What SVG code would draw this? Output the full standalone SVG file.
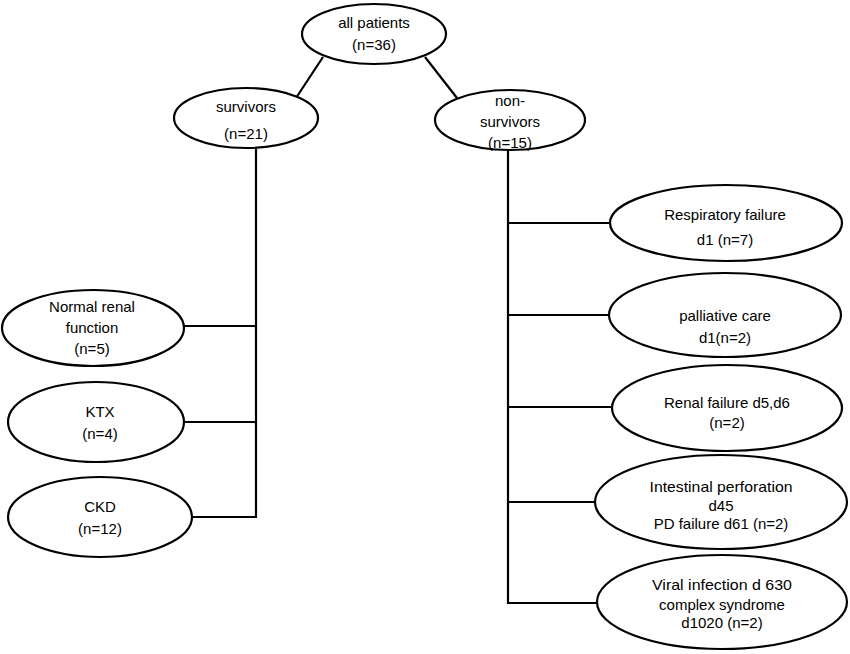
<svg xmlns="http://www.w3.org/2000/svg" width="850" height="654" viewBox="0 0 850 654">
<style>
.n ellipse{fill:#fff;stroke:#000;stroke-width:2.2}
.n text{font-family:"Liberation Sans",Arial,sans-serif;font-size:15px;fill:#000;text-anchor:middle}
#connectors line{stroke:#000;stroke-width:2.2;fill:none}
</style>
<rect width="850" height="654" fill="#fff"/>
<g id="connectors">
<line x1="323" y1="57" x2="296" y2="98"/>
<line x1="425" y1="57" x2="457" y2="98"/>
<line x1="256" y1="149" x2="256" y2="518"/>
<line x1="184" y1="326" x2="256" y2="326"/>
<line x1="184" y1="422" x2="256" y2="422"/>
<line x1="192" y1="517" x2="257" y2="517"/>
<line x1="508" y1="150" x2="508" y2="604"/>
<line x1="507" y1="223" x2="610" y2="223"/>
<line x1="507" y1="315" x2="609" y2="315"/>
<line x1="507" y1="407" x2="612" y2="407"/>
<line x1="507" y1="502" x2="595" y2="502"/>
<line x1="507" y1="603" x2="597" y2="603"/>
</g>
<g id="all" class="n"><ellipse cx="374" cy="34" rx="72" ry="30"/><text x="374" y="28">all patients</text><text x="374" y="50">(n=36)</text></g>
<g id="survivors" class="n"><ellipse cx="246" cy="118" rx="72" ry="30"/><text x="246" y="112">survivors</text><text x="246" y="139">(n=21)</text></g>
<g id="nonsurvivors" class="n"><ellipse cx="510" cy="120" rx="75" ry="30"/><text x="510" y="106">non-</text><text x="510" y="127">survivors</text><text x="510" y="148">(n=15)</text></g>
<g id="normal" class="n"><ellipse cx="93" cy="328" rx="91" ry="38"/><text x="92" y="312">Normal renal</text><text x="92" y="333">function</text><text x="92" y="354">(n=5)</text></g>
<g id="ktx" class="n"><ellipse cx="96" cy="422" rx="88" ry="40"/><text x="100" y="417">KTX</text><text x="100" y="439">(n=4)</text></g>
<g id="ckd" class="n"><ellipse cx="100" cy="517" rx="92" ry="40"/><text x="100" y="512">CKD</text><text x="100" y="534">(n=12)</text></g>
<g id="resp" class="n"><ellipse cx="726" cy="223" rx="116" ry="38"/><text x="725" y="220">Respiratory failure</text><text x="725" y="245">d1 (n=7)</text></g>
<g id="palliative" class="n"><ellipse cx="725" cy="315" rx="116" ry="42"/><text x="725" y="321">palliative care</text><text x="725" y="343">d1(n=2)</text></g>
<g id="renal" class="n"><ellipse cx="727" cy="408" rx="115" ry="43"/><text x="727" y="408">Renal failure d5,d6</text><text x="727" y="428">(n=2)</text></g>
<g id="intestinal" class="n"><ellipse cx="721" cy="502" rx="126" ry="47"/><text x="721" y="492" textLength="143" lengthAdjust="spacingAndGlyphs">Intestinal perforation</text><text x="721" y="511">d45</text><text x="721" y="529">PD failure d61 (n=2)</text></g>
<g id="viral" class="n"><ellipse cx="722" cy="602" rx="125" ry="47"/><text x="722" y="590" textLength="140" lengthAdjust="spacingAndGlyphs">Viral infection d 630</text><text x="722" y="610">complex syndrome</text><text x="722" y="628">d1020 (n=2)</text></g>
</svg>
